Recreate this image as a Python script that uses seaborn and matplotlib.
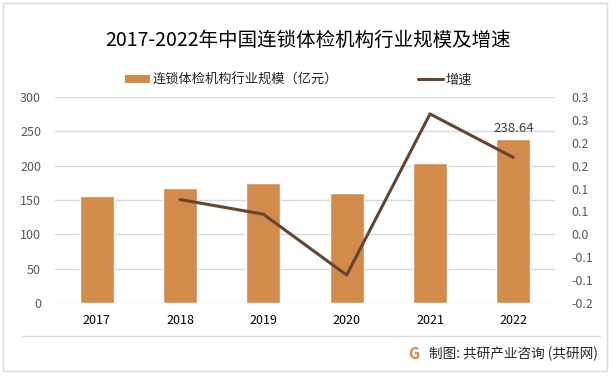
import numpy as np
import pandas as pd
import matplotlib
matplotlib.use("Agg")
import matplotlib.pyplot as plt
import seaborn as sns
from matplotlib.patches import Patch, Rectangle
from matplotlib.lines import Line2D

years = ["2017", "2018", "2019", "2020", "2021", "2022"]
scale = [155.6, 167.3, 175.0, 160.0, 203.5, 238.64]
growth = [np.nan, 0.076, 0.044, -0.089, 0.263, 0.168]
left_ticks = [0, 50, 100, 150, 200, 250, 300]
right_ticks = [-0.15, -0.1, -0.05, 0.0, 0.05, 0.1, 0.15, 0.2, 0.25, 0.3]
right_labels = ["-0.2", "-0.1", "-0.1", "0.0", "0.1", "0.1", "0.2", "0.2", "0.3", "0.3"]
title = "2017-2022年中国连锁体检机构行业规模及增速"
bar_name = "连锁体检机构行业规模（亿元）"
line_name = "增速"
source = "制图: 共研产业咨询 (共研网)"

sns.set_theme(style="white")
plt.rcParams['font.family'] = ['Noto Sans CJK SC', 'DejaVu Sans']

W, H = 613, 376
fig = plt.figure(figsize=(W / 100, H / 100), dpi=100)
fig.patch.set_facecolor("white")

def fx(px):
    return px / W

def fy(py):
    return 1 - py / H

ax = fig.add_axes([fx(55), fy(303), fx(555) - fx(55), fy(97) - fy(303)])
df = pd.DataFrame({"year": years, "scale": scale, "growth": growth,
                   "pos": np.arange(len(years))})

bar_color = "#D38B4C"
line_color = "#634532"

sns.barplot(data=df, x="year", y="scale", color=bar_color, width=0.41,
            saturation=1, ax=ax, zorder=2)
ax.set_ylim(0, 300)
ax.set_yticks(left_ticks)
ax.set_xlim(-0.5, len(years) - 0.5)
ax.grid(axis="y", color="#D9D9D9", linewidth=1, zorder=0)
ax.set_axisbelow(True)
for s in ax.spines.values():
    s.set_visible(False)
ax.set_xlabel("")
ax.set_ylabel("")
ax.tick_params(axis="y", length=0, pad=10, labelsize=9, labelcolor="#595959")
ax.tick_params(axis="x", length=0, pad=8, labelsize=9, labelcolor="#000000")

# data label on last bar
ax.bar_label(ax.containers[0], labels=["", "", "", "", "", f"{scale[-1]:.2f}"],
             padding=3, fontsize=9.5, color="#404040")

ax2 = ax.twinx()
sns.lineplot(data=df, x="pos", y="growth", color=line_color, linewidth=2.2,
             ax=ax2, zorder=3)
ax2.set_ylim(-0.15, 0.3)
ax2.set_yticks(right_ticks)
ax2.set_yticklabels(right_labels)
ax2.set_xlim(-0.5, len(years) - 0.5)
for s in ax2.spines.values():
    s.set_visible(False)
ax2.set_ylabel("")
ax2.set_xlabel("")
ax2.tick_params(axis="y", length=0, pad=12, labelsize=9, labelcolor="#595959")

# title
fig.text(fx(308), fy(40), title, ha="center", va="center", fontsize=14,
         color="#000000")

# legend
handles = [Patch(facecolor=bar_color, edgecolor="none"),
           Line2D([0], [0], color=line_color, linewidth=2.2)]
fig.legend(handles, [bar_name, line_name], loc="center",
           bbox_to_anchor=(fx(298.5), fy(80)), ncol=2, frameon=False,
           fontsize=9.5, handlelength=1.9, handleheight=0.53,
           columnspacing=6.0, handletextpad=0.2, borderpad=0)

# separator line and source
fig.add_artist(Line2D([fx(22), fx(600)], [fy(336), fy(336)],
                      color="#D9D9D9", linewidth=1))
fig.text(fx(414), fy(354), "G", ha="center", va="center", fontsize=11,
         fontweight="bold", color="#F07F3C")
fig.text(fx(429), fy(354), source, ha="left", va="center", fontsize=9.8,
         color="#262626")

# outer border
fig.add_artist(Rectangle((fx(3), fy(371)), fx(607) - fx(3), fy(3) - fy(371),
                         transform=fig.transFigure, fill=False,
                         edgecolor="#D9D9D9", linewidth=1))

fig.savefig("out.png", dpi=100)
